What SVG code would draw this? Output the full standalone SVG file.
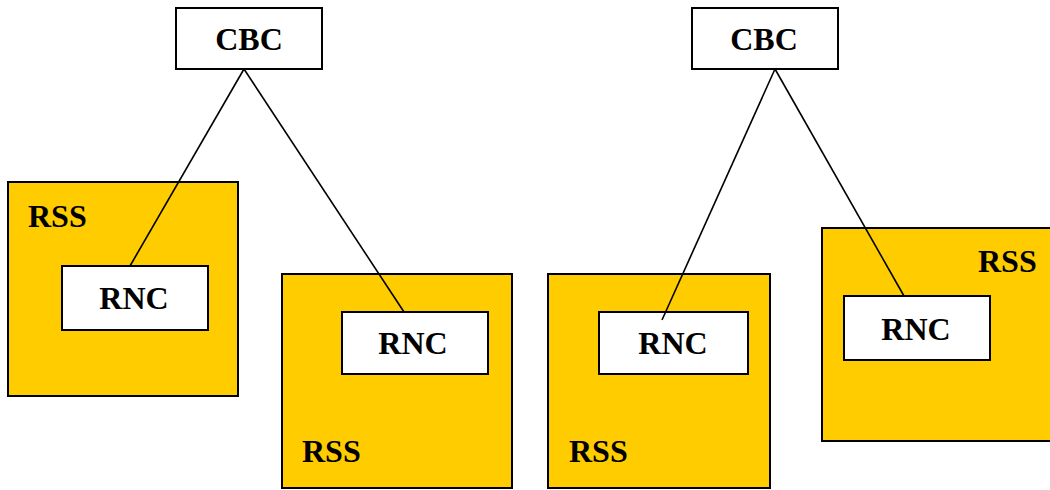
<svg xmlns="http://www.w3.org/2000/svg" width="1050" height="490" viewBox="0 0 1050 490">
  <style>
    .box { fill: #ffffff; stroke: #000000; stroke-width: 2; }
    .rss { fill: #ffcc00; stroke: #000000; stroke-width: 2; }
    .lbl { font-family: "Liberation Serif", "Times New Roman", serif; font-weight: bold; font-size: 32px; fill: #000000; }
    .mid { text-anchor: middle; }
    .link { stroke: #000000; stroke-width: 1.6; fill: none; }
  </style>
  <rect width="1050" height="490" fill="#ffffff"/>

  <!-- left system -->
  <g id="rss1">
    <rect class="rss" x="8" y="182" width="230" height="214"/>
    <text class="lbl" x="28" y="227">RSS</text>
  </g>
  <g id="rss2">
    <rect class="rss" x="282" y="274" width="230" height="214"/>
    <text class="lbl" x="302" y="462">RSS</text>
  </g>
  <g id="rnc1">
    <rect class="box" x="62" y="266" width="146" height="64"/>
    <text class="lbl mid" x="134" y="309">RNC</text>
  </g>
  <g id="rnc2">
    <rect class="box" x="342" y="312" width="146" height="62"/>
    <text class="lbl mid" x="413" y="354">RNC</text>
  </g>
  <g id="cbc1">
    <rect class="box" x="176" y="8" width="146" height="61"/>
    <text class="lbl mid" x="249" y="50">CBC</text>
  </g>

  <!-- right system -->
  <g id="rss3">
    <rect class="rss" x="548" y="274" width="222" height="214"/>
    <text class="lbl" x="569" y="462">RSS</text>
  </g>
  <g id="rss4">
    <rect class="rss" x="822" y="228" width="240" height="213"/>
    <text class="lbl" x="978" y="272">RSS</text>
  </g>
  <g id="rnc3">
    <rect class="box" x="599" y="312" width="149" height="62"/>
    <text class="lbl mid" x="673" y="354">RNC</text>
  </g>
  <g id="rnc4">
    <rect class="box" x="844" y="296" width="146" height="64"/>
    <text class="lbl mid" x="916" y="340">RNC</text>
  </g>
  <g id="cbc2">
    <rect class="box" x="692" y="8" width="146" height="61"/>
    <text class="lbl mid" x="764" y="50">CBC</text>
  </g>

  <!-- connectors -->
  <g id="connectors">
    <line class="link" x1="244" y1="69" x2="130" y2="266"/>
    <line class="link" x1="244" y1="69" x2="404" y2="312"/>
    <line class="link" x1="775" y1="69" x2="662" y2="320"/>
    <line class="link" x1="775" y1="69" x2="904" y2="296"/>
  </g>
</svg>
